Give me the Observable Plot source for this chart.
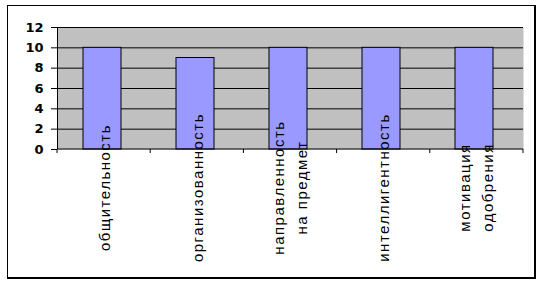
<!DOCTYPE html>
<html><head><meta charset="utf-8">
<script src="https://cdn.jsdelivr.net/npm/d3@7"></script>
<script src="https://cdn.jsdelivr.net/npm/@observablehq/plot@0.6"></script>
<style>
body{margin:0;background:#fff;}
#wrap{position:relative;width:542px;height:283px;overflow:hidden;}
#border{position:absolute;left:7px;top:5px;width:526px;height:271px;border:1px solid #000;border-right-width:2px;border-bottom-width:2px;pointer-events:none;}
#chart svg g[aria-label="text"] text{letter-spacing:1.5px;}
</style></head><body>
<div id="wrap"><div id="chart"></div><div id="border"></div></div>
<script>
const categories = ["общительность", "организованность", "направленность\nна предмет", "интеллигентность", "мотивация\nодобрения"];
const values = [10, 9, 10, 10, 10];
const yTicks = [0, 2, 4, 6, 8, 10, 12];

const data = categories.map((c, i) => ({category: c, value: values[i]}));

// category boundary ticks + left axis line, derived from the scales
const axisLines = Plot.ruleY([0], {
  render: (index, scales, vals, dims) => {
    const y = scales.y;
    const g = d3.create("svg:g").attr("stroke", "#000").attr("stroke-width", 1);
    const left = dims.marginLeft, right = dims.width - dims.marginRight;
    const n = categories.length;
    const bounds = d3.range(n + 1).map(i => left + (right - left) * i / n);
    const y0 = y(0);
    for (const b of bounds) {
      g.append("line").attr("x1", b).attr("x2", b).attr("y1", y0).attr("y2", y0 + 4);
    }
    g.append("line").attr("x1", left + 0.5).attr("x2", left + 0.5)
      .attr("y1", y(d3.max(yTicks))).attr("y2", y0);
    g.append("line").attr("x1", left).attr("x2", right).attr("y1", y0).attr("y2", y0);
    return g.node();
  }
});

const chart = Plot.plot({
  width: 542,
  height: 283,
  marginLeft: 57,
  marginRight: 19,
  marginTop: 27,
  marginBottom: 134,
  style: {background: "transparent", color: "#000", overflow: "visible"},
  x: {domain: categories, paddingInner: 0.59, paddingOuter: 0.295, align: 0.47, axis: null},
  y: {domain: [0, 12], axis: null},
  marks: [
    Plot.frame({fill: "#c0c0c0", stroke: null}),
    Plot.ruleY(yTicks.filter(v => v > 0), {stroke: "#000", strokeWidth: 1}),
    Plot.barY(data, {x: "category", y: "value", fill: "#9999ff", stroke: "#000", strokeWidth: 1}),
    axisLines,
    Plot.axisY({ticks: yTicks, tickSize: 6, tickPadding: 8, tickFormat: d => String(d),
      fontSize: 13, fontWeight: "bold", fontFamily: "DejaVu Sans", label: null}),
    Plot.text(data, {x: "category", text: "category", frameAnchor: "bottom", rotate: -90,
      textAnchor: "middle", lineAnchor: "middle", lineHeight: 1.5, dy: 38,
      fontSize: 15, fontFamily: "Liberation Sans", fill: "#000"})
  ]
});
document.getElementById("chart").appendChild(chart);
</script>
</body></html>
